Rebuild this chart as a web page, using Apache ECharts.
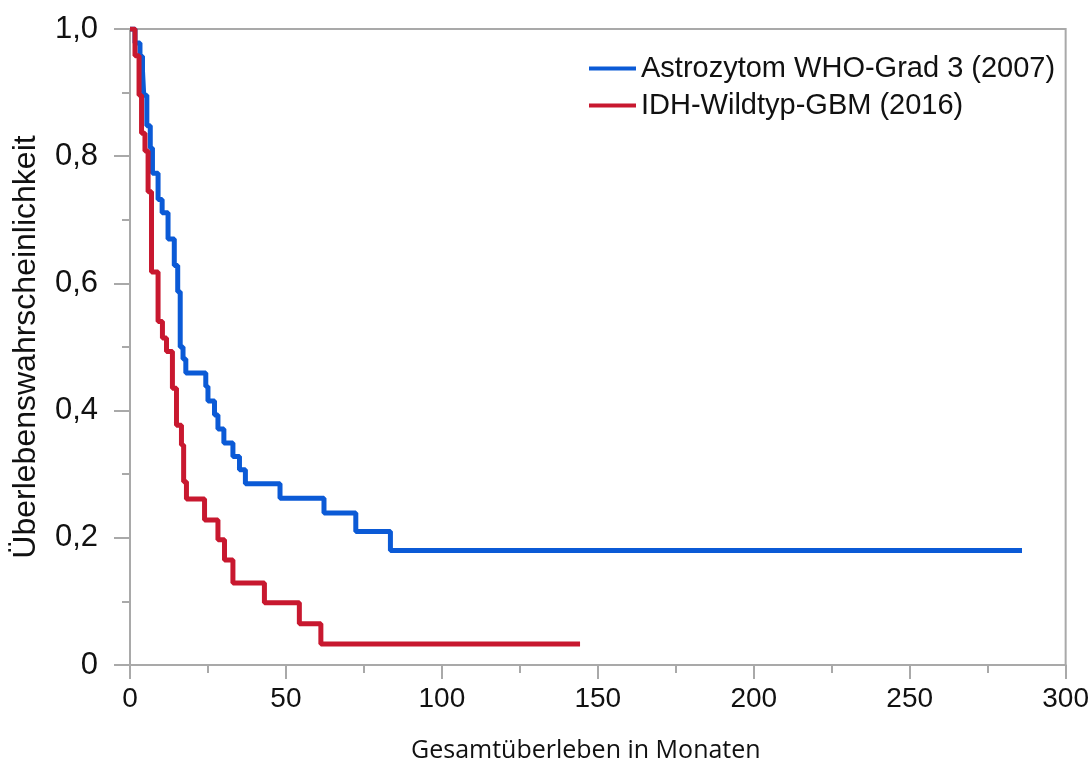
<!DOCTYPE html>
<html>
<head>
<meta charset="utf-8">
<script src="https://cdn.jsdelivr.net/npm/echarts@6/dist/echarts.min.js"></script>
<style>
html,body{margin:0;padding:0;background:#fff;}
#chart{width:1092px;height:769px;}
</style>
</head>
<body>
<div id="chart"></div>
<script>
const seriesNames = ['Astrozytom WHO-Grad 3 (2007)', 'IDH-Wildtyp-GBM (2016)'];
const xTitle = 'Gesamtüberleben in Monaten';
const yTitle = 'Überlebenswahrscheinlichkeit';

const astroMonths = [0, 1.6, 3.2, 4.0, 4.4, 5.4, 6.5, 7.2, 9.0, 10.3, 12.2, 14.2, 15.3, 16.1, 17.0, 17.9, 24.3, 25.0, 27.1, 28.2, 30.1, 33.0, 35.1, 37.0, 48.1, 62.2, 72.4, 83.5, 286.0];
const astroSurv   = [1.0, 0.978, 0.957, 0.935, 0.896, 0.848, 0.813, 0.773, 0.732, 0.711, 0.670, 0.628, 0.587, 0.500, 0.481, 0.459, 0.438, 0.415, 0.393, 0.371, 0.349, 0.328, 0.307, 0.285, 0.262, 0.239, 0.210, 0.180, 0.180];

const gbmMonths = [0, 1.6, 2.9, 3.7, 4.8, 5.8, 6.9, 9.0, 10.4, 11.7, 13.6, 14.9, 16.5, 17.2, 18.1, 23.9, 28.2, 30.3, 33.0, 43.1, 54.3, 61.2, 144.3];
const gbmSurv   = [1.0, 0.958, 0.896, 0.836, 0.808, 0.744, 0.618, 0.540, 0.514, 0.493, 0.435, 0.377, 0.346, 0.288, 0.261, 0.228, 0.197, 0.165, 0.129, 0.098, 0.065, 0.033, 0.033];

function pairs(xs, ys){ return xs.map((x,i)=>[x, ys[i]]); }

const axisGray = '#a9a9a9';
const chart = echarts.init(document.getElementById('chart'), null, {renderer:'canvas'});
chart.setOption({
  animation: false,
  backgroundColor: '#fff',
  grid: {left: 130, right: 18, top: 29, bottom: 104, show: true, borderColor: axisGray, borderWidth: 2, backgroundColor: 'transparent'},
  legend: {
    orient: 'vertical', left: 584, top: 49,
    itemWidth: 47, itemHeight: 4, itemGap: 8, icon: 'rect',
    textStyle: {fontFamily: 'Liberation Sans', fontSize: 29, color: '#111', lineHeight: 27},
    data: seriesNames
  },
  xAxis: {
    type: 'value', min: 0, max: 300, interval: 50,
    name: xTitle, nameLocation: 'middle', nameGap: 73,
    nameTextStyle: {fontFamily: 'Open Sans', fontSize: 25, color: '#111', padding: [0, 24, 0, 0]},
    axisLine: {lineStyle: {color: axisGray, width: 2}},
    axisTick: {show: true, length: 14, lineStyle: {color: axisGray, width: 2}},
    minorTick: {show: true, splitNumber: 2, length: 8, lineStyle: {color: axisGray, width: 2}},
    splitLine: {show: false},
    axisLabel: {fontFamily: 'Liberation Sans', fontSize: 28, color: '#111', margin: 20}
  },
  yAxis: {
    type: 'value', min: 0, max: 1, interval: 0.2,
    name: yTitle, nameLocation: 'middle', nameGap: 88, nameRotate: 90,
    nameTextStyle: {fontFamily: 'Liberation Sans', fontSize: 32, color: '#111'},
    axisLine: {show: true, lineStyle: {color: axisGray, width: 2}},
    axisTick: {show: true, length: 16, lineStyle: {color: axisGray, width: 2}},
    minorTick: {show: true, splitNumber: 2, length: 8, lineStyle: {color: axisGray, width: 2}},
    splitLine: {show: false},
    axisLabel: {fontFamily: 'Liberation Sans', fontSize: 31, color: '#111', margin: 32,
      formatter: v => v === 0 ? '0' : v.toFixed(1).replace('.', ',')}
  },
  series: [
    {name: seriesNames[0], type: 'line', step: 'end', showSymbol: false, symbol: 'none',
     data: pairs(astroMonths, astroSurv), color: '#0b5ad6',
     lineStyle: {color: '#0b5ad6', width: 5}, z: 2},
    {name: seriesNames[1], type: 'line', step: 'end', showSymbol: false, symbol: 'none',
     data: pairs(gbmMonths, gbmSurv), color: '#c8182f',
     lineStyle: {color: '#c8182f', width: 5}, z: 3}
  ]
});
</script>
</body>
</html>
